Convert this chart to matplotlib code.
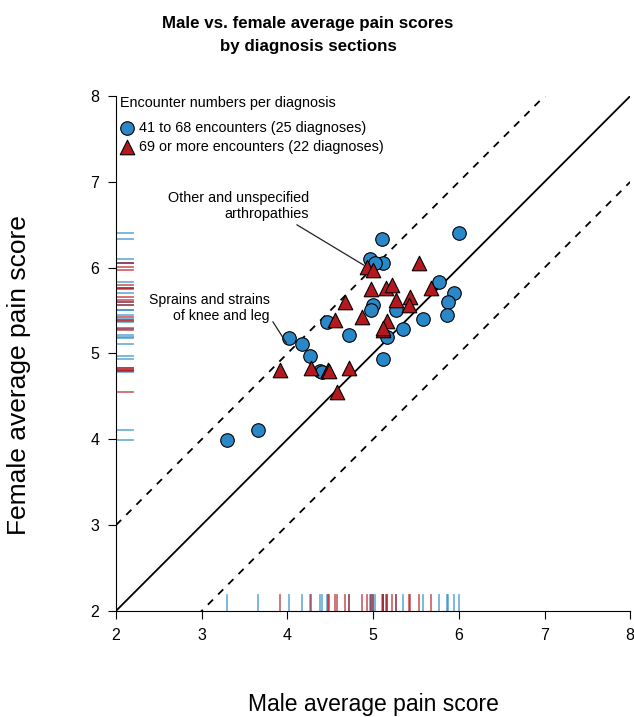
import numpy as np
import matplotlib
matplotlib.use("Agg")
import matplotlib.pyplot as plt

plt.rcParams["font.family"] = ["Liberation Sans", "DejaVu Sans"]

BLUE = "#2a87c8"
RED = "#b3191f"

# 41 to 68 encounters (25 diagnoses)
mid_male = [5.10, 6.00, 4.96, 5.11, 5.77, 5.94, 5.87, 5.86, 5.58, 5.35, 5.00, 4.98, 5.27,
            4.46, 4.72, 5.16, 5.11, 4.02, 4.17, 4.26, 4.38, 3.30, 3.66, 4.40, 5.02]
mid_female = [6.34, 6.41, 6.10, 6.05, 5.83, 5.71, 5.60, 5.45, 5.40, 5.29, 5.56, 5.51, 5.51,
              5.37, 5.22, 5.19, 4.93, 5.18, 5.11, 4.97, 4.80, 3.99, 4.11, 4.78, 6.06]

# 69 or more encounters (22 diagnoses)
high_male = [4.93, 5.00, 5.54, 4.98, 5.15, 5.22, 5.68, 5.27, 5.43, 5.42, 4.67,
             4.56, 4.87, 5.16, 5.11, 3.91, 4.28, 4.47, 4.49, 4.72, 4.58, 5.12]
high_female = [6.01, 5.97, 6.05, 5.75, 5.76, 5.80, 5.76, 5.62, 5.66, 5.56, 5.60,
               5.39, 5.43, 5.38, 5.27, 4.81, 4.83, 4.81, 4.79, 4.83, 4.55, 5.30]

fig = plt.figure(figsize=(6.34, 7.17), dpi=100, facecolor="white")
ax = fig.add_axes([0.183, 0.148, 0.811, 0.718])

ax.set_xlim(2, 8)
ax.set_ylim(2, 8)

# reference lines
ref = np.array([2, 8])
ax.plot(ref, ref, color="black", lw=1.3, zorder=1)
ax.plot(ref, ref + 1, color="black", lw=1.3, ls=(0, (4, 4)), zorder=1)
ax.plot(ref, ref - 1, color="black", lw=1.3, ls=(0, (4, 4)), zorder=1)

# rugs
for vals, col in [(mid_male, BLUE), (high_male, RED)]:
    for v in vals:
        ax.plot([v, v], [2, 2.19], color=col, lw=1.3, alpha=0.65, zorder=1)
for vals, col in [(mid_female, BLUE), (high_female, RED)]:
    for v in vals:
        ax.plot([2, 2.2], [v, v], color=col, lw=1.3, alpha=0.65, zorder=1)

ax.scatter(mid_male, mid_female, s=95, marker="o", c=BLUE, edgecolors="black",
           linewidths=0.8, zorder=3, clip_on=False)
ax.scatter(high_male, high_female, s=110, marker="^", c=RED, edgecolors="black",
           linewidths=0.8, zorder=4, clip_on=False)

# annotations
ax.text(4.25, 6.72, "Other and unspecified\narthropathies", ha="right", va="center",
        fontsize=10.4, multialignment="right", linespacing=1.15)
ax.annotate("", xy=(4.89, 6.03), xytext=(4.11, 6.50),
            arrowprops=dict(arrowstyle="-", color="#222222", lw=0.9, shrinkA=0, shrinkB=0))
ax.text(3.79, 5.53, "Sprains and strains\nof knee and leg", ha="right", va="center",
        fontsize=10.1, multialignment="right", linespacing=1.15)
ax.annotate("", xy=(3.99, 5.12), xytext=(3.83, 5.37),
            arrowprops=dict(arrowstyle="-", color="#222222", lw=0.9, shrinkA=0, shrinkB=0))

# legend drawn by hand
ax.text(0.008, 0.986, "Encounter numbers per diagnosis", transform=ax.transAxes,
        ha="left", va="center", fontsize=10.4)
ax.scatter([0.021], [0.938], s=95, marker="o", c=BLUE, edgecolors="black", linewidths=0.8,
           transform=ax.transAxes, clip_on=False, zorder=5)
ax.scatter([0.021], [0.902], s=110, marker="^", c=RED, edgecolors="black", linewidths=0.8,
           transform=ax.transAxes, clip_on=False, zorder=5)
ax.text(0.045, 0.938, "41 to 68 encounters (25 diagnoses)", transform=ax.transAxes,
        ha="left", va="center", fontsize=10.4)
ax.text(0.045, 0.902, "69 or more encounters (22 diagnoses)", transform=ax.transAxes,
        ha="left", va="center", fontsize=10.4)

ax.set_xticks(range(2, 9))
ax.set_yticks(range(2, 9))
ax.tick_params(direction="out", length=6, width=0.8, labelsize=11.5, pad=6)
for side in ["top", "right"]:
    ax.spines[side].set_visible(False)
for side in ["left", "bottom"]:
    ax.spines[side].set_linewidth(0.8)

ax.set_xlabel("Male average pain score", fontsize=16.5)
ax.set_ylabel("Female average pain score", fontsize=19)
ax.xaxis.set_label_coords(0.5, -0.159)
ax.yaxis.set_label_coords(-0.165, 0.458)

fig.text(0.486, 0.951, "Male vs. female average pain scores\nby diagnosis sections",
         ha="center", va="center", fontsize=12.2, fontweight="bold", linespacing=1.68)

fig.savefig("out.png", dpi=100, facecolor="white")
